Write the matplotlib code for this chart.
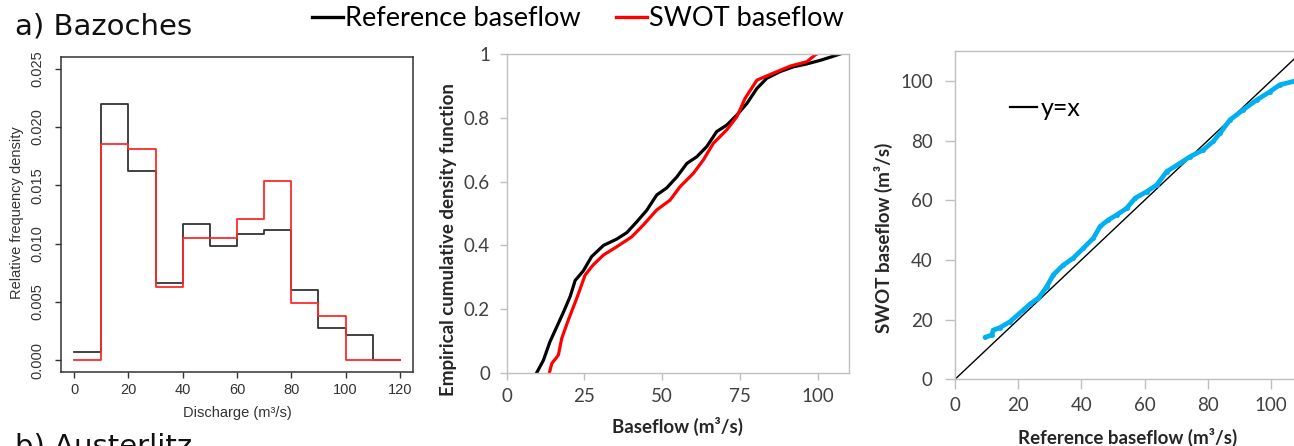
import matplotlib
matplotlib.use("Agg")
import matplotlib.pyplot as plt
from matplotlib.lines import Line2D

# ---- data ----
# panel a: histogram of discharge (bin edges 0..120 by 10)
bin_edges = [0, 10, 20, 30, 40, 50, 60, 70, 80, 90, 100, 110, 120]
hist_reference = [0.0007, 0.0220, 0.0162, 0.0066, 0.0117, 0.0098, 0.0108,
                  0.0112, 0.0060, 0.0028, 0.0022, 0.0]
hist_swot = [0.0, 0.0185, 0.0181, 0.0063, 0.0105, 0.0105, 0.0121,
             0.0154, 0.0049, 0.0038, 0.0, 0.0]

# panel b: empirical CDF
ecdf_ref_x = [9.6, 11.8, 13.9, 16.1, 18.2, 20.4, 22.0, 24.6, 27.3, 31.1, 35.4,
              38.6, 41.8, 45.0, 48.2, 51.4, 54.7, 57.9, 61.1, 64.3, 67.5, 70.7,
              74.0, 77.2, 80.4, 83.6, 87.9, 92.2, 96.5, 100.7, 104.0, 107.1]
ecdf_ref_y = [0.0, 0.04, 0.098, 0.145, 0.19, 0.24, 0.29, 0.32, 0.365, 0.40,
              0.42, 0.44, 0.474, 0.51, 0.558, 0.58, 0.615, 0.657, 0.678, 0.71,
              0.757, 0.777, 0.809, 0.845, 0.892, 0.924, 0.945, 0.96, 0.969,
              0.98, 0.99, 1.0]
ecdf_swot_x = [13.7, 14.5, 16.6, 17.7, 19.8, 22.5, 25.2, 27.8, 31.1, 35.4,
               40.2, 43.9, 48.2, 52.5, 55.7, 60.0, 63.2, 66.4, 70.7, 74.0,
               76.6, 80.4, 85.7, 91.1, 96.5, 99.1, 99.7]
ecdf_swot_y = [0.0, 0.03, 0.056, 0.109, 0.166, 0.234, 0.307, 0.339, 0.37,
               0.396, 0.427, 0.464, 0.511, 0.542, 0.584, 0.626, 0.668, 0.72,
               0.762, 0.804, 0.861, 0.918, 0.94, 0.962, 0.976, 0.997, 1.0]

# panel c: quantile-quantile
qq_ref = [9.5, 11.6, 12.1, 14.2, 17.4, 21.6, 23.7, 26.4, 29.0, 31.1, 34.3,
          37.4, 40.6, 43.8, 45.9, 48.5, 51.2, 54.3, 57.0, 60.7, 63.8, 67.0,
          71.2, 74.4, 78.6, 81.7, 83.9, 87.0, 91.2, 95.5, 99.7, 102.8, 107.1]
qq_swot = [14.1, 14.8, 16.5, 17.3, 19.3, 23.2, 25.2, 27.2, 31.0, 35.0, 38.3,
           40.6, 43.9, 47.3, 51.2, 53.4, 55.1, 57.3, 60.7, 62.9, 65.1, 69.6,
           72.4, 74.6, 76.9, 79.7, 82.5, 86.9, 90.3, 93.6, 96.4, 98.7, 99.8]
identity = [0, 110]

W, H = 1294, 446
fig = plt.figure(figsize=(W / 100, H / 100), dpi=100)

calibri_like = "Lato"
gray_txt = "#404040"
frame_gray = "#bfbfbf"

def box(l, t, r, b):
    return [l / W, 1 - b / H, (r - l) / W, (b - t) / H]

# ---- a) histogram (R style) ----
ax1 = fig.add_axes(box(61, 57, 413, 372))
ax1.step(bin_edges, hist_reference + [hist_reference[-1]], where="post",
         color="#333333", lw=1.3)
ax1.step(bin_edges, hist_swot + [hist_swot[-1]], where="post",
         color="#ff2a2a", lw=1.3)
ax1.set_xlim(-4.8, 124.8)
ax1.set_ylim(-0.001, 0.026)
ax1.set_xticks(range(0, 121, 20))
ax1.set_yticks([0.0, 0.005, 0.010, 0.015, 0.020, 0.025])
ax1.set_yticklabels(["0.000", "0.005", "0.010", "0.015", "0.020", "0.025"],
                    rotation=90, va="center")
for sp in ax1.spines.values():
    sp.set_color("#333333")
    sp.set_linewidth(1.1)
ax1.tick_params(length=4, width=1, color="#333333", labelcolor="#333333",
                labelsize=10.5)
ax1.tick_params(axis="x", pad=4)
ax1.tick_params(axis="y", pad=8)
for lab in ax1.get_xticklabels() + ax1.get_yticklabels():
    lab.set_family("Liberation Sans")
ax1.set_xlabel("Discharge (m³/s)", family="Liberation Sans", fontsize=10.5,
               color="#333333")
ax1.xaxis.set_label_coords(0.5, -0.13)
ax1.xaxis.label.set_va("center")
ax1.set_ylabel("Relative frequency density", family="Liberation Sans",
               fontsize=10.5, color="#333333")
ax1.yaxis.set_label_coords(-0.125, 0.505)
ax1.yaxis.label.set_va("center")

# ---- b) ECDF (Excel style) ----
ax2 = fig.add_axes(box(506.7, 54, 849, 373))
ax2.plot(ecdf_ref_x, ecdf_ref_y, color="black", lw=2.3)
ax2.plot(ecdf_swot_x, ecdf_swot_y, color="#ff0000", lw=2.3)
ax2.set_xlim(0, 110)
ax2.set_ylim(0, 1)
ax2.set_xticks([0, 25, 50, 75, 100])
ax2.set_yticks([0, 0.2, 0.4, 0.6, 0.8, 1.0])
ax2.set_yticklabels(["0", "0.2", "0.4", "0.6", "0.8", "1"])
for sp in ax2.spines.values():
    sp.set_color(frame_gray)
    sp.set_linewidth(1)
ax2.tick_params(length=5, width=1, color=frame_gray, labelcolor=gray_txt,
                labelsize=13.5)
ax2.tick_params(axis="x", pad=6)
ax2.tick_params(axis="y", pad=7)
for lab in ax2.get_xticklabels() + ax2.get_yticklabels():
    lab.set_family(calibri_like)
ax2.set_xlabel("Baseflow (m³/s)", family=calibri_like, fontsize=13.5,
               fontweight="bold", color="#262626")
ax2.xaxis.set_label_coords(0.5, -0.169)
ax2.xaxis.label.set_va("center")
ax2.set_ylabel("Empirical cumulative density function", family=calibri_like,
               fontsize=13.5, fontweight="bold", color="#262626")
ax2.yaxis.set_label_coords(-0.171, 0.417)
ax2.yaxis.label.set_va("center")

# ---- c) Q-Q plot ----
ax3 = fig.add_axes(box(955, 51, 1302.6, 379.3))
ax3.plot(identity, identity, color="black", lw=1.0, label="y=x")
ax3.plot(qq_ref, qq_swot, color="#00b0f0", lw=3.4, marker="o", ms=2.5,
         solid_capstyle="round")
ax3.set_xlim(0, 110)
ax3.set_ylim(0, 110)
ax3.set_xticks(range(0, 101, 20))
ax3.set_yticks(range(0, 101, 20))
for sp in ax3.spines.values():
    sp.set_color(frame_gray)
    sp.set_linewidth(1)
ax3.tick_params(length=7, width=1, color=frame_gray, labelcolor=gray_txt,
                labelsize=13.5)
ax3.tick_params(axis="x", pad=6)
ax3.tick_params(axis="y", pad=9)
for lab in ax3.get_xticklabels() + ax3.get_yticklabels():
    lab.set_family(calibri_like)
ax3.set_xlabel("Reference baseflow (m³/s)", family=calibri_like, fontsize=13.5,
               fontweight="bold", color="#262626")
ax3.xaxis.set_label_coords(0.498, -0.176)
ax3.xaxis.label.set_va("center")
ax3.set_ylabel("SWOT baseflow (m³/s)", family=calibri_like, fontsize=13.5,
               fontweight="bold", color="#262626")
ax3.yaxis.set_label_coords(-0.207, 0.43)
ax3.yaxis.label.set_va("center")
leg3 = ax3.legend(handles=[Line2D([], [], color="black", lw=1.6)],
                  labels=["y=x"], loc="center left",
                  bbox_to_anchor=(0.158, 0.826), frameon=False,
                  handlelength=1.1, handletextpad=0.12, borderpad=0,
                  borderaxespad=0, prop={"family": calibri_like, "size": 18})

# ---- top legend and panel titles ----
handles = [Line2D([], [], color="black", lw=2.4),
           Line2D([], [], color="#ff0000", lw=2.4)]
fig.legend(handles, ["Reference baseflow", "SWOT baseflow"], ncol=2,
           loc="center left", bbox_to_anchor=(312 / W, 1 - 19 / H),
           frameon=False, handlelength=1.15, handletextpad=0.08,
           columnspacing=1.3, borderpad=0, borderaxespad=0,
           prop={"family": calibri_like, "size": 19.5})

fig.text(15 / W, 1 - 35 / H, "a) Bazoches", family="DejaVu Sans",
         fontsize=21, va="baseline", ha="left", color="#111111")
fig.text(15 / W, 1 - 454 / H, "b) Austerlitz", family="DejaVu Sans",
         fontsize=21, va="baseline", ha="left", color="#111111")

fig.savefig("out.png", dpi=100)
